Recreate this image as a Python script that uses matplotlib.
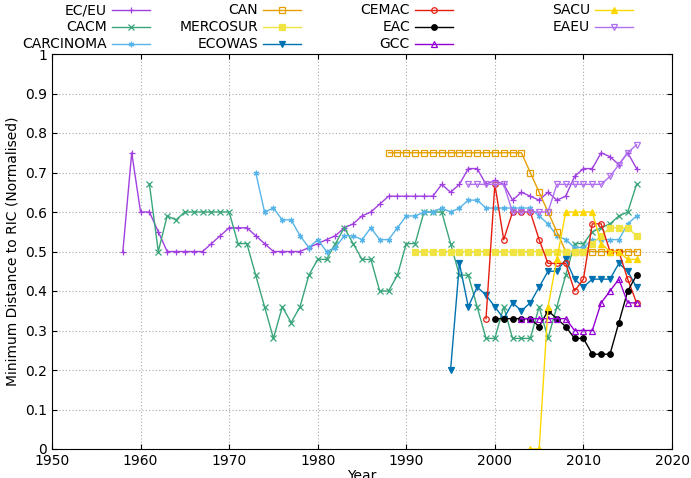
import matplotlib
matplotlib.use("Agg")
import matplotlib.pyplot as plt
from matplotlib.lines import Line2D

def yrs(a, b): return list(range(a, b + 1))

ec_x = yrs(1958, 2016)
ec_y = [0.5,0.75,0.6,0.6,0.55,0.5,0.5,0.5,0.5,0.5,0.52,0.54,0.56,0.56,0.56,0.54,0.52,0.5,0.5,0.5,0.5,0.51,0.52,0.53,0.54,0.56,0.57,0.59,0.6,0.62,0.64,0.64,
        0.64,0.64,0.64,0.64,0.67,0.65,0.67,0.71,0.71,0.67,0.68,0.67,0.63,0.65,0.64,0.63,0.65,0.63,0.64,0.69,0.71,0.71,0.75,0.74,0.72,0.75,0.71]
cacm_x = yrs(1961, 2016)
cacm_y = [0.67,0.5,0.59,0.58,0.6,0.6,0.6,0.6,0.6,0.6,0.52,0.52,0.44,0.36,0.28,0.36,0.32,0.36,0.44,0.48,0.48,0.52,0.56,0.52,0.48,0.48,0.4,0.4,0.44,
          0.52,0.52,0.6,0.6,0.6,0.52,0.44,0.44,0.36,0.28,0.28,0.36,0.28,0.28,0.28,0.36,0.28,0.36,0.44,0.52,0.52,0.55,0.56,0.57,0.59,0.6,0.67]
carc_x = yrs(1973, 2016)
carc_y = [0.7,0.6,0.61,0.58,0.58,0.54,0.51,0.53,0.5,0.51,0.54,0.54,0.53,0.56,0.53,0.53,0.56,
          0.59,0.59,0.6,0.6,0.61,0.6,0.61,0.63,0.63,0.61,0.61,0.61,0.61,0.61,0.61,0.59,0.57,0.54,0.53,0.51,0.51,0.53,0.53,0.53,0.53,0.57,0.59]
can_x = yrs(1988, 2016)
can_y = [0.75]*16 + [0.7,0.65,0.6,0.55,0.5,0.5,0.5,0.5,0.5,0.5,0.5,0.5,0.5]
merc_x = yrs(1991, 2016)
merc_y = [0.5]*20 + [0.52,0.54,0.56,0.56,0.56,0.54]
ecow_x = yrs(1995, 2016)
ecow_y = [0.2,0.47,0.36,0.41,0.39,0.36,0.33,0.37,0.35,0.37,0.41,0.45,0.45,0.48,0.43,0.41,0.43,0.43,0.43,0.47,0.45,0.41]
cemac_x = yrs(1999, 2016)
cemac_y = [0.33,0.67,0.53,0.6,0.6,0.6,0.53,0.47,0.47,0.47,0.4,0.43,0.57,0.57,0.5,0.5,0.43,0.37]
eac_x = yrs(2000, 2016)
eac_y = [0.33,0.33,0.33,0.33,0.33,0.31,0.35,0.33,0.31,0.28,0.28,0.24,0.24,0.24,0.32,0.4,0.44]
gcc_x = yrs(2003, 2016)
gcc_y = [0.33,0.33,0.33,0.33,0.33,0.33,0.3,0.3,0.3,0.37,0.4,0.43,0.37,0.37]
sacu_x = yrs(2004, 2016)
sacu_y = [0.0,0.0,0.36,0.48,0.6,0.6,0.6,0.6,0.52,0.5,0.5,0.48,0.48]
eaeu_x = yrs(1997, 2016)
eaeu_y = [0.67,0.67,0.67,0.67,0.67,0.6,0.6,0.6,0.6,0.6,0.67,0.67,0.67,0.67,0.67,0.67,0.69,0.72,0.75,0.77]

W, H = 691, 478
fig = plt.figure(figsize=(W/100, H/100), dpi=100)
ax = fig.add_axes([52/W, 1-449/H, 620/W, 395/H])

ast = (6, 2, 0)
series = [
    ("EC/EU", ec_x, ec_y, "#a040e0", "+", "none"),
    ("CACM", cacm_x, cacm_y, "#3aa57a", "x", "none"),
    ("CARCINOMA", carc_x, carc_y, "#56b4e9", ast, "none"),
    ("CAN", can_x, can_y, "#e69f00", "s", "none"),
    ("MERCOSUR", merc_x, merc_y, "#f0e442", "s", "full"),
    ("ECOWAS", ecow_x, ecow_y, "#0072b2", "v", "full"),
    ("CEMAC", cemac_x, cemac_y, "#e51e10", "o", "none"),
    ("EAC", eac_x, eac_y, "#000000", "o", "full"),
    ("GCC", gcc_x, gcc_y, "#9400d3", "^", "none"),
    ("SACU", sacu_x, sacu_y, "#ffd700", "^", "full"),
    ("EAEU", eaeu_x, eaeu_y, "#b070f0", "v", "none"),
]
col_right = [107, 258, 410, 590]
row_y = [10, 27, 44]
for i, (name, x, y, c, m, fill) in enumerate(series):
    kw = dict(markerfacecolor="none") if fill == "none" else {}
    ax.plot(x, y, color=c, marker=m, markersize=4, linewidth=1, markeredgewidth=0.9, **kw)
    col, row = divmod(i, 3)
    tx = col_right[col]; ty = row_y[row]
    fig.text(tx/W, 1-ty/H, name, ha="right", va="center", fontsize=10)
    fig.add_artist(Line2D([(tx+5)/W, (tx+43)/W], [1-ty/H]*2, color=c, linewidth=1))
    fig.add_artist(Line2D([(tx+24)/W], [1-ty/H], color=c, marker=m, markersize=4,
                          markeredgewidth=0.9, **kw))

ax.set_xlim(1950, 2020)
ax.set_ylim(0, 1)
ax.set_xticks(range(1950, 2021, 10))
ax.set_yticks([i/10 for i in range(11)])
ax.set_yticklabels(["0"] + [f"{i/10:g}" for i in range(1, 10)] + ["1"])
ax.grid(True, linestyle=(0, (1, 2)), color="#aaaaaa", linewidth=0.8)
ax.tick_params(direction="in", labelsize=10, top=True, right=True)
ax.set_xlabel("Year", fontsize=10, labelpad=1)
ax.set_ylabel("Minimum Distance to RIC (Normalised)", fontsize=10, labelpad=4)
fig.savefig("out.png", dpi=100)
